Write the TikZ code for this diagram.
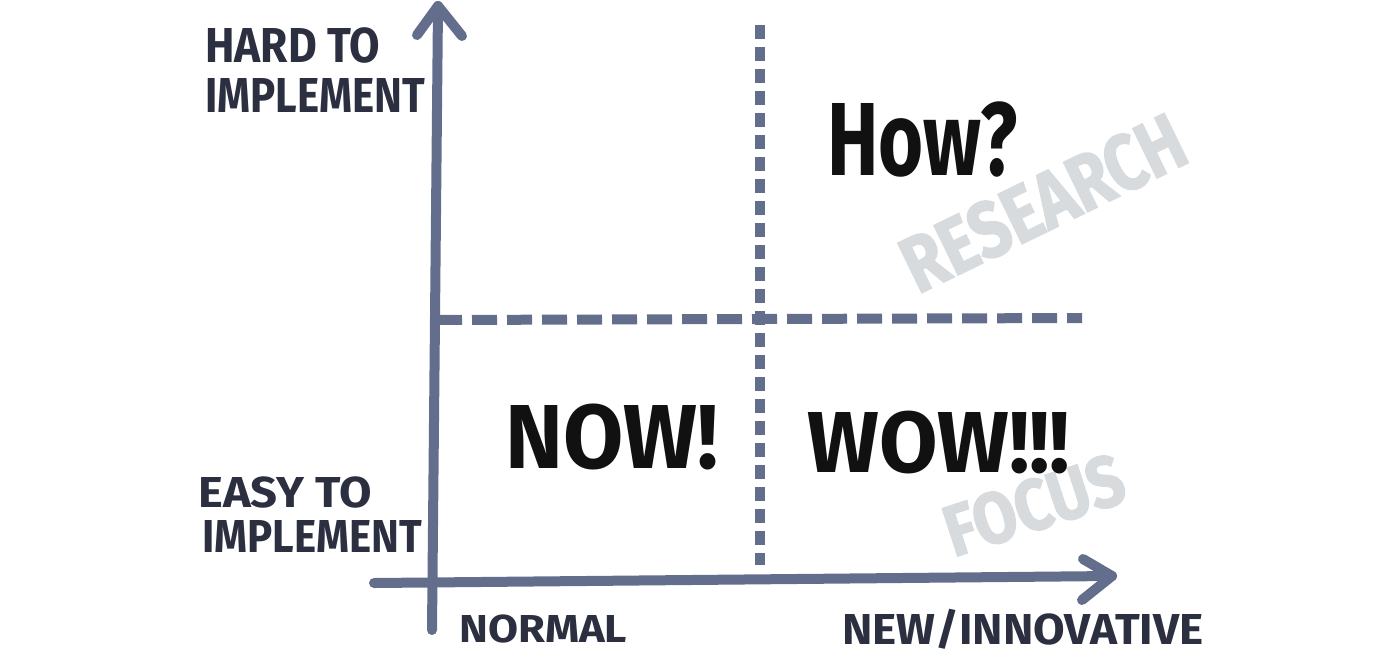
\documentclass[tikz,border=0pt]{standalone}
\usepackage{fontspec}
\usepackage{graphicx}
\newfontfamily\handf{Fira Sans}
\newfontfamily\heavyf{Fira Sans}[BoldFeatures={FakeBold=2}]
\definecolor{axisc}{HTML}{636E8C}
\definecolor{labc}{HTML}{2B2F3F}
\definecolor{wordc}{HTML}{111111}
\definecolor{wmc}{HTML}{D8DBDE}
\newcommand{\fitbox}[3]{\resizebox{#1pt}{#2pt}{\smash{#3}\vphantom{H}}}
\begin{document}
\begin{tikzpicture}[x=0.75pt,y=-0.75pt,
 axisline/.style={draw=axisc,line width=7.5pt,line cap=round,line join=round},
 dashv/.style={draw=axisc,line width=7.5pt,dash pattern=on 10.5pt off 6pt},
 dashh/.style={draw=axisc,line width=7.5pt,dash pattern=on 18.75pt off 7.5pt},
 lab/.style={inner sep=0pt,anchor=base west,text=labc,font=\handf\bfseries},
 word/.style={inner sep=0pt,anchor=base west,text=wordc,font=\handf\bfseries},
 wm/.style={inner sep=0pt,anchor=center,text=wmc,font=\heavyf\bfseries}]
\useasboundingbox (0,0) rectangle (1391,658);
% axis coordinates
\coordinate (ybot) at (432,630);
\coordinate (ytip) at (438,6);
\coordinate (ylw) at (417,35);
\coordinate (yrw) at (462,36);
\coordinate (xleft) at (374,583);
\coordinate (xtip) at (1112,576);
\coordinate (xuw) at (1083,559);
\coordinate (xdw) at (1082,600);
\coordinate (vtop) at (760,25);
\coordinate (vbot) at (760,565);
\coordinate (hleft) at (437,320);
\coordinate (hright) at (1082,318);
% watermarks
\node[wm,rotate=26] (research) at (1043,203) {\fitbox{228.75}{41.25}{RESEARCH}};
\node[wm,rotate=18] (focus) at (1034,505) {\fitbox{138.75}{37.5}{FOCUS}};
% dashed quadrant lines
\draw[dashh] (hleft) -- (hright);
\draw[dashv] (vtop) -- (vbot);
% axes
\draw[axisline] (ybot) -- (ytip);
\draw[axisline] (ylw) -- (ytip) -- (yrw);
\draw[axisline] (xleft) -- (xtip);
\draw[axisline] (xuw) -- (xtip) -- (xdw);
% axis labels
\node[lab] (hard) at (205,62) {\fitbox{131.25}{25.5}{HARD TO}};
\node[lab] (impl1) at (205,112) {\fitbox{165}{25.5}{IMPLEMENT}};
\node[lab] (easy) at (198,507) {\fitbox{130.5}{22.5}{EASY TO}};
\node[lab] (impl2) at (202,552) {\fitbox{165}{24}{IMPLEMENT}};
\node[lab] (normal) at (459,642) {\fitbox{126}{20.25}{NORMAL}};
\node[lab] (newinn) at (842,644) {\fitbox{270.75}{22.5}{NEW/INNOVATIVE}};
% quadrant words
\node[word] (how) at (827,175) {\fitbox{142.5}{54}{How?}};
\node[word] (now) at (505,468) {\fitbox{159.75}{47.25}{NOW!}};
\node[word] (wow) at (807,472) {\fitbox{197.25}{45}{WOW!!!}};
\end{tikzpicture}
\end{document}
